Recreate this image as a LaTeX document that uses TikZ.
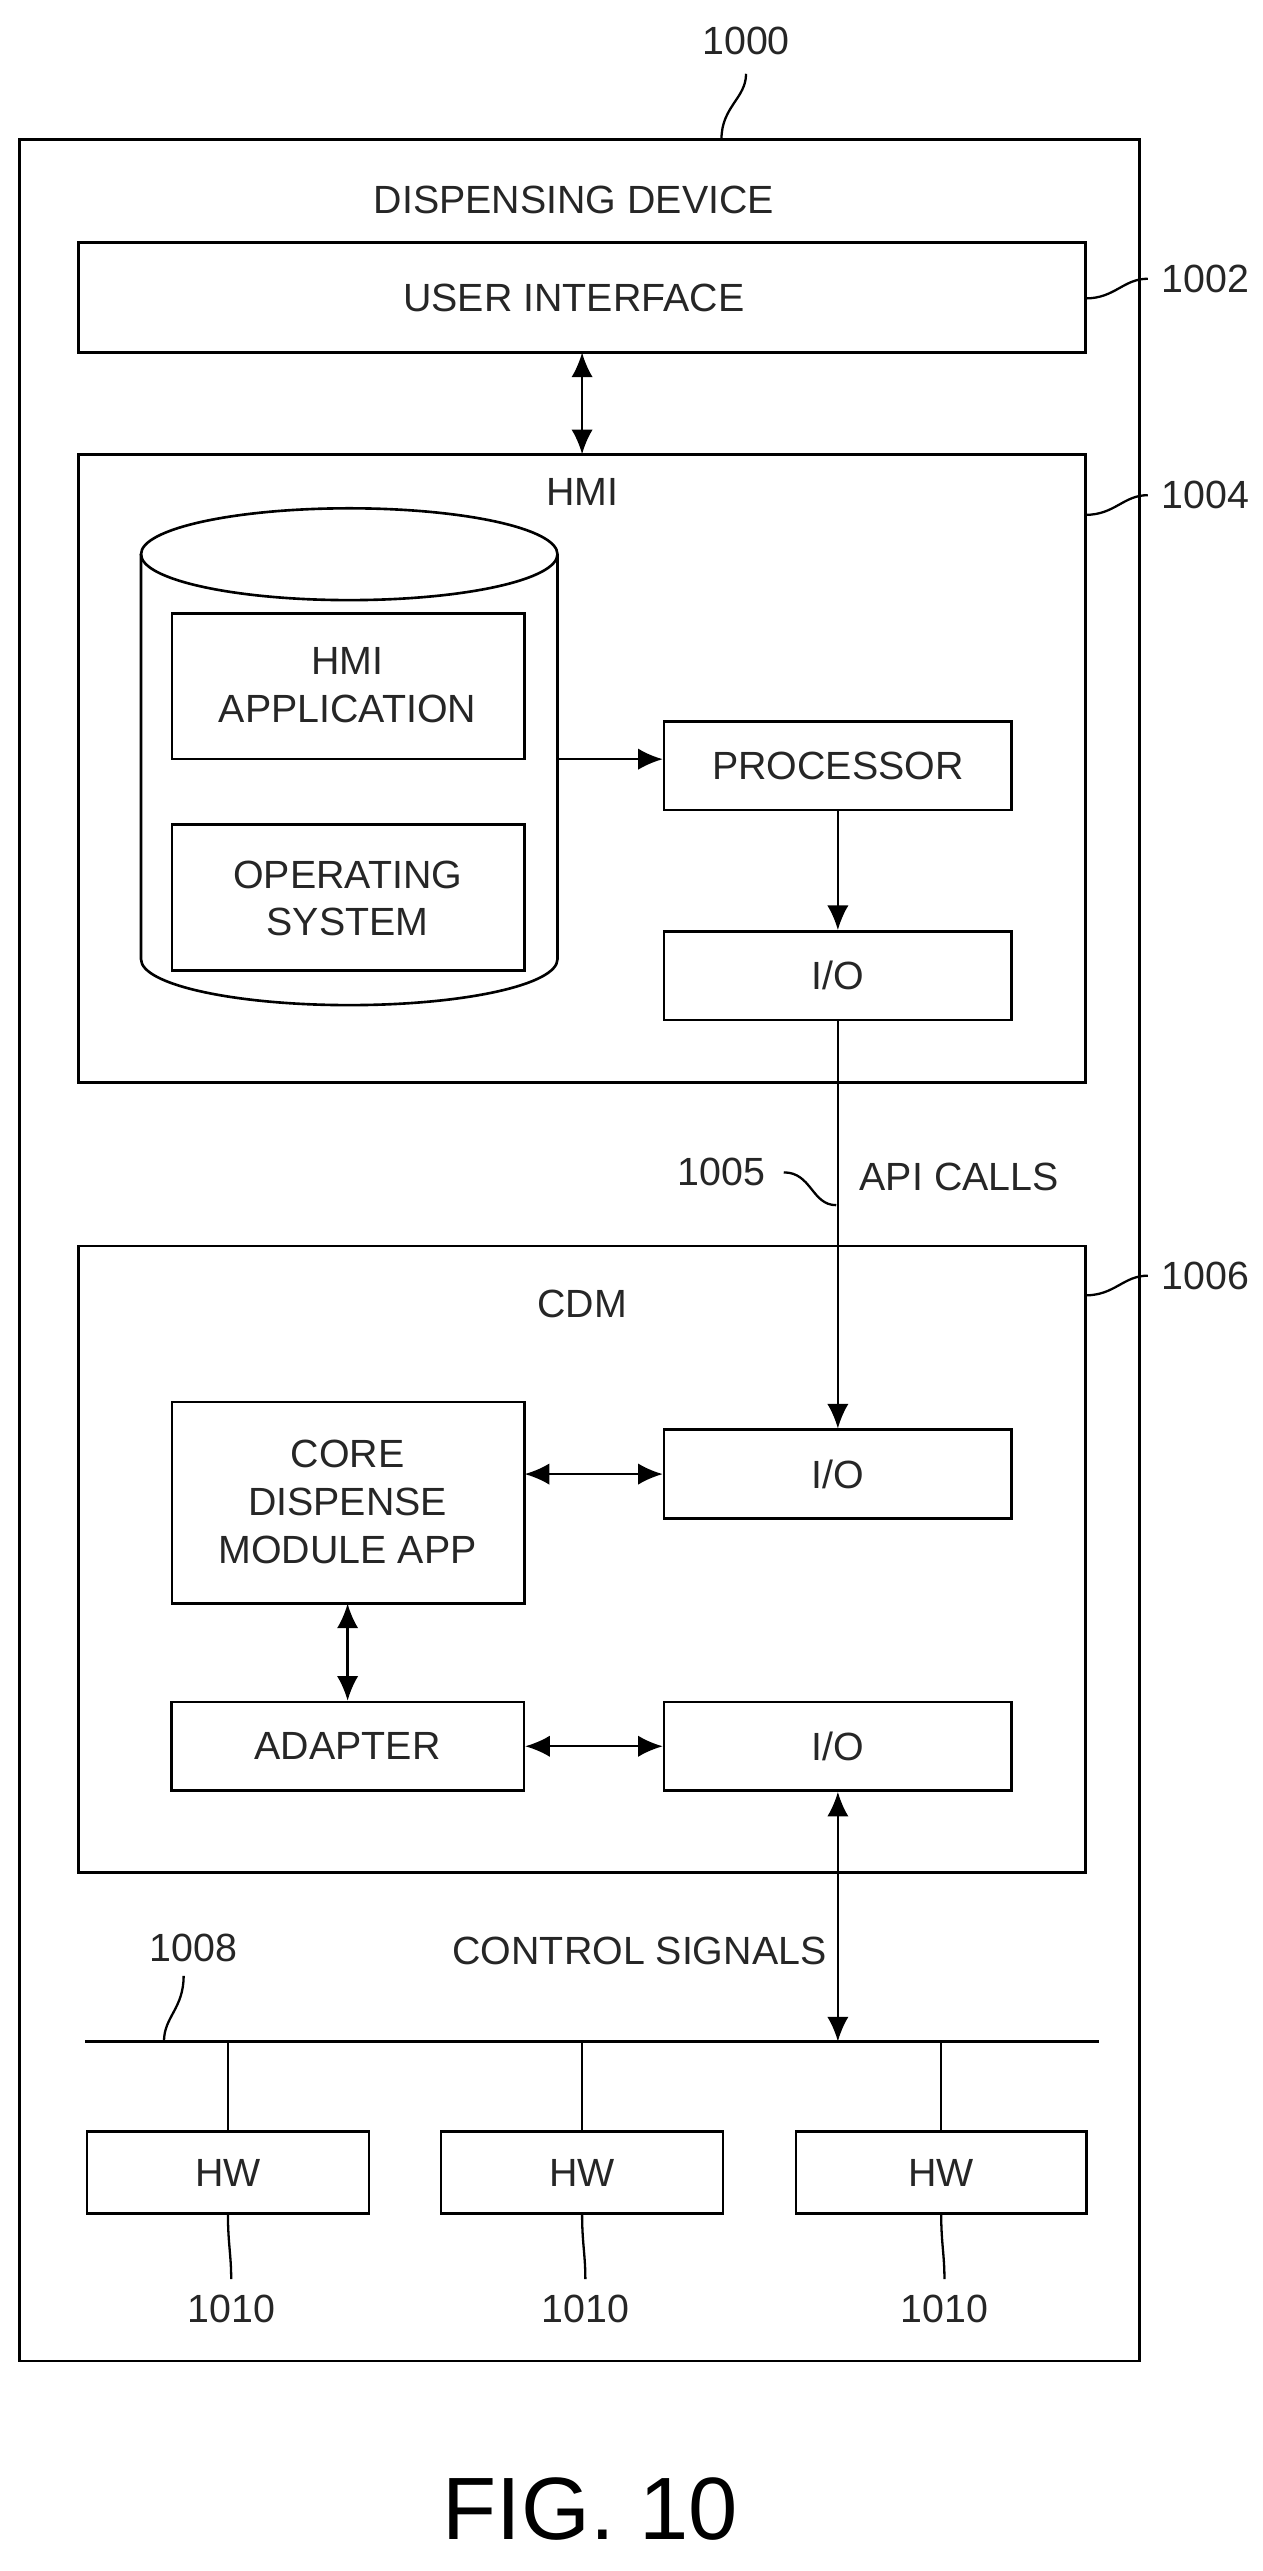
\documentclass[tikz,border=0pt]{standalone}
\usepackage{fontspec}
\setmainfont{Liberation Sans}
\usetikzlibrary{shapes.geometric,arrows.meta}
\tikzset{
  box/.style={draw,line width=1.6pt},
  lbl/.style={font=\fontsize{24}{29}\selectfont,align=center,text=black!85},
  arr/.style={line width=1.4pt,-{Latex[length=15pt,width=13pt]}},
  darr/.style={line width=1.4pt,{Latex[length=15pt,width=13pt]}-{Latex[length=15pt,width=13pt]}},
  lead/.style={line width=1.4pt}
}
\begin{document}
\begin{tikzpicture}[x=1pt,y=-1pt]
  \useasboundingbox (0,0) rectangle (770,1568);
  % outer device
  \draw[box] (12,85) rectangle (695,1440);
  \node[lbl] (dev) at (350,122) {DISPENSING DEVICE};
  \node[lbl] (n1000) at (455,25) {1000};
  \draw[lead] (440,85) .. controls (440,65) and (455,60) .. (455,45);
  % user interface
  \draw[box] (48,148) rectangle (662,215);
  \node[lbl] (ui) at (350,182) {USER INTERFACE};
  \node[lbl] (n1002) at (735,170) {1002};
  \draw[lead] (662,182) .. controls (680,182) and (685,170) .. (700,170);
  \coordinate (uib) at (355,215);
  \coordinate (hmit) at (355,277);
  \draw[darr] (uib) -- (hmit);
  % HMI
  \draw[box] (48,277) rectangle (662,660);
  \node[lbl] (hmi) at (355,300) {HMI};
  \node[lbl] (n1004) at (735,302) {1004};
  \draw[lead] (662,314) .. controls (680,314) and (685,302) .. (700,302);
  \draw[box] (86,338) -- (86,585) arc[start angle=180,end angle=0,x radius=127,y radius=28]
    -- (340,338);
  \draw[box] (213,338) ellipse[x radius=127,y radius=28];
  \draw[box] (105,374) rectangle (320,463);
  \node[lbl] (app) at (212,418) {HMI\\APPLICATION};
  \draw[box] (105,503) rectangle (320,592);
  \node[lbl] (os) at (212,548) {OPERATING\\SYSTEM};
  \node[box,lbl,minimum width=212pt,minimum height=54pt] (proc) at (511,467) {PROCESSOR};
  \node[box,lbl,minimum width=212pt,minimum height=54pt] (io1) at (511,595) {I/O};
  \coordinate (cyl) at (340,463);
  \draw[arr] (cyl) -- (cyl -| proc.west);
  \draw[arr] (proc) -- (io1);
  % API calls
  \node[lbl] (api) at (585,718) {API CALLS};
  \node[lbl] (n1005) at (440,715) {1005};
  \draw[lead] (478,715) .. controls (495,715) and (495,735) .. (510,735);
  % CDM
  \draw[box] (48,760) rectangle (662,1142);
  \node[lbl] (cdm) at (355,795) {CDM};
  \node[lbl] (n1006) at (735,778) {1006};
  \draw[lead] (662,790) .. controls (680,790) and (685,778) .. (700,778);
  \draw[box] (105,855) rectangle (320,978);
  \node[lbl] (core) at (212,916) {CORE\\DISPENSE\\MODULE APP};
  \node[box,lbl,minimum width=212pt,minimum height=54pt] (io2) at (511,899) {I/O};
  \node[box,lbl,minimum width=215pt,minimum height=54pt] (adp) at (212,1065) {ADAPTER};
  \node[box,lbl,minimum width=212pt,minimum height=54pt] (io3) at (511,1065) {I/O};
  \draw[arr] (io1) -- (io2);
  \draw[darr] (320,899) -- (io2.west);
  \draw[darr] (212,978) -- (adp.north);
  \draw[darr] (adp) -- (io3);
  % bus
  \coordinate (busl) at (52,1245);
  \coordinate (busr) at (670,1245);
  \draw[lead] (busl) -- (busr);
  \coordinate (busio) at (511,1245);
  \draw[darr] (io3) -- (busio);
  \node[lbl] (ctl) at (390,1190) {CONTROL SIGNALS};
  \node[lbl] (n1008) at (118,1188) {1008};
  \draw[lead] (112,1205) .. controls (112,1225) and (100,1230) .. (100,1245);
  % hardware
  \foreach \x/\w [count=\i] in {139/172,355/172,574/177}{
    \node[box,lbl,minimum width=\w pt,minimum height=50pt] (hw\i) at (\x,1325) {HW};
    \draw[lead] (hw\i.north) -- (\x,1245);
    \node[lbl] (n1010\i) at (\x+2,1408) {1010};
    \draw[lead] (\x,1350) .. controls (\x,1368) and (\x+2,1375) .. (\x+2,1390);
  }
  \node[font=\fontsize{54}{60}\selectfont] (fig) at (360,1530) {FIG. 10};
\end{tikzpicture}
\end{document}
